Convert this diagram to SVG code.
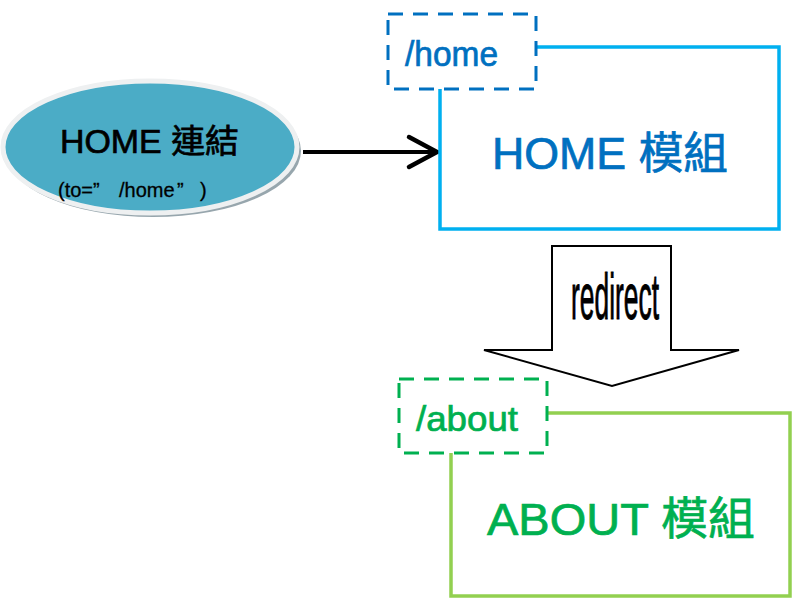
<svg xmlns="http://www.w3.org/2000/svg" width="809" height="614" viewBox="0 0 809 614">
<style>
.t{font-family:"Liberation Sans","Noto Sans CJK TC",sans-serif;}
.b{stroke-width:0.7;}
.dash{fill:#fff;stroke-width:3;stroke-dasharray:15 10;}
.solid{fill:#fff;stroke-width:3.5;}
</style>
<rect width="809" height="614" fill="#fff"/>
<g id="home-link">
<ellipse cx="153" cy="151" rx="148" ry="66" fill="#97a6ad"/>
<ellipse cx="150" cy="147" rx="147" ry="66" fill="#4BACC6" stroke="#eef0f1" stroke-width="5"/>
<text class="t b" x="60" y="153" font-size="33" fill="#000" stroke="#000" textLength="179" lengthAdjust="spacingAndGlyphs">HOME 連結</text>
<text class="t" font-size="20" fill="#000" stroke="#000" stroke-width="0.3" y="197"><tspan x="58">(to=”</tspan><tspan x="119">/home</tspan><tspan x="177">”</tspan><tspan x="200">)</tspan></text>
</g>
<g id="connectors" fill="none" stroke="#000">
<line x1="303" y1="152" x2="436" y2="152" stroke-width="4"/>
<polyline points="409,137 437,152 409,167" stroke-width="4.5" stroke-linecap="round" stroke-linejoin="miter"/>
<g id="redirect">
<polygon points="552,246 671,246 671,350 739,350 612,386 484,350 552,350" fill="#fff" stroke-width="2"/>
<text class="t" x="571" y="319" font-size="64" fill="#000" stroke="#000" stroke-width="1" textLength="88" lengthAdjust="spacingAndGlyphs">redirect</text>
</g>
</g>
<g id="home-module">
<rect class="solid" x="440" y="47" width="339" height="182" stroke="#00B0F0"/>
<text class="t b" x="492" y="169" font-size="44" fill="#0070C0" stroke="#0070C0" textLength="236" lengthAdjust="spacingAndGlyphs">HOME 模組</text>
</g>
<g id="home-route">
<rect class="dash" x="388" y="14" width="148" height="75" stroke="#0070C0"/>
<text class="t b" x="405" y="66" font-size="35" fill="#0070C0" stroke="#0070C0" textLength="93" lengthAdjust="spacingAndGlyphs">/home</text>
</g>
<g id="about-module">
<rect class="solid" x="451" y="413" width="339" height="183" stroke="#92D050"/>
<text class="t b" x="487" y="535" font-size="45" fill="#00B050" stroke="#00B050" textLength="268" lengthAdjust="spacingAndGlyphs">ABOUT 模組</text>
</g>
<g id="about-route">
<rect class="dash" x="399" y="379" width="148" height="74" stroke="#00B050"/>
<text class="t b" x="416" y="431" font-size="35" fill="#00B050" stroke="#00B050" textLength="102" lengthAdjust="spacingAndGlyphs">/about</text>
</g>
</svg>
